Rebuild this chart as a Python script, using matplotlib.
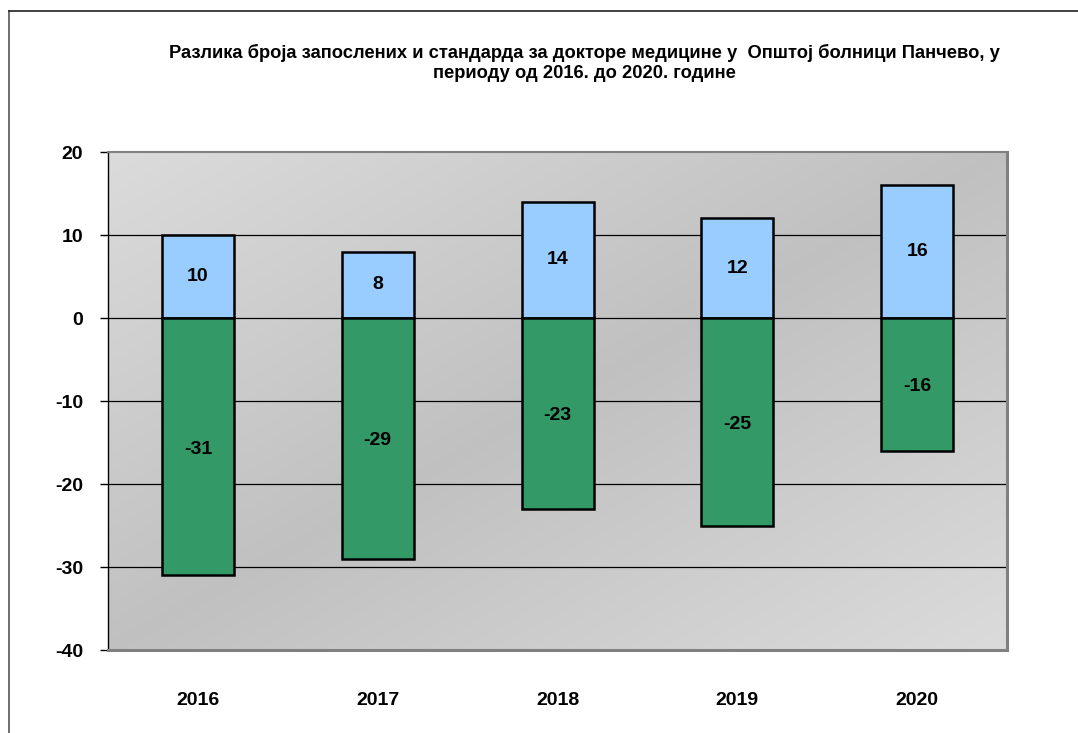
import numpy as np
import matplotlib.pyplot as plt

years = ['2016', '2017', '2018', '2019', '2020']
employed_diff = [10, 8, 14, 12, 16]
standard_diff = [-31, -29, -23, -25, -16]

title = ('Разлика броја запослених и стандарда за докторе медицине у  Општој болници Панчево, у\n'
         'периоду од 2016. до 2020. године')

plt.rcParams['font.family'] = ['Liberation Sans', 'DejaVu Sans']
plt.rcParams['font.weight'] = 'bold'
plt.rcParams['axes.unicode_minus'] = False

fig = plt.figure(figsize=(10.78, 7.33), dpi=100)
ax = fig.add_axes([0.1002, 0.1132, 0.834, 0.6794])

# outer chart frame (top and left edges visible)
fig.add_artist(plt.Line2D([9 / 1078, 9 / 1078], [0, 1 - 11 / 733], color='#555555', lw=1.2,
                          transform=fig.transFigure))
fig.add_artist(plt.Line2D([9 / 1078, 1], [1 - 11 / 733, 1 - 11 / 733], color='#222222', lw=1.2,
                          transform=fig.transFigure))

# diagonal gradient background
gx, gy = np.meshgrid(np.linspace(0, 1, 300), np.linspace(0, 1, 300))
d = np.abs(gx + gy - 1)
shade = 0.755 + 0.105 * d
ax.imshow(np.dstack([shade, shade, shade]), extent=[0, 1, 0, 1], transform=ax.transAxes,
          aspect='auto', zorder=0, origin='upper')

x = np.arange(len(years))
ax.set_xlim(-0.5, len(years) - 0.5)
ax.set_ylim(-40, 20)
ax.set_yticks(range(-40, 21, 10))
for v in range(-30, 20, 10):
    ax.axhline(v, color='black', lw=0.9, zorder=1)

ax.bar(x, employed_diff, width=0.4, color='#99ccff', edgecolor='black', linewidth=1.8, zorder=3)
ax.bar(x, standard_diff, width=0.4, color='#339966', edgecolor='black', linewidth=1.8, zorder=3)

for xi, p, n in zip(x, employed_diff, standard_diff):
    ax.text(xi, p / 2, str(p), ha='center', va='center', fontsize=14, fontweight='bold', zorder=4)
    ax.text(xi, n / 2 - 0.3, str(n), ha='center', va='center', fontsize=14, fontweight='bold', zorder=4)

ax.set_xticks(x)
ax.set_xticklabels(years, fontsize=14, fontweight='bold')
ax.tick_params(axis='x', length=0, pad=30)
ax.tick_params(axis='y', direction='out', length=6, width=1, labelsize=14, pad=12)
for lab in ax.get_yticklabels():
    lab.set_fontweight('bold')

ax.spines['left'].set_color('black')
ax.spines['left'].set_linewidth(1)
ax.spines['top'].set_color('#808080')
ax.spines['top'].set_linewidth(1.5)
ax.spines['right'].set_color('#808080')
ax.spines['right'].set_linewidth(2.2)
ax.spines['bottom'].set_color('#808080')
ax.spines['bottom'].set_linewidth(2.2)

fig.text(0.542, 0.914, title, ha='center', va='center', fontsize=13.2, fontweight='bold',
         linespacing=1.25)

fig.savefig('out.png', dpi=100)
